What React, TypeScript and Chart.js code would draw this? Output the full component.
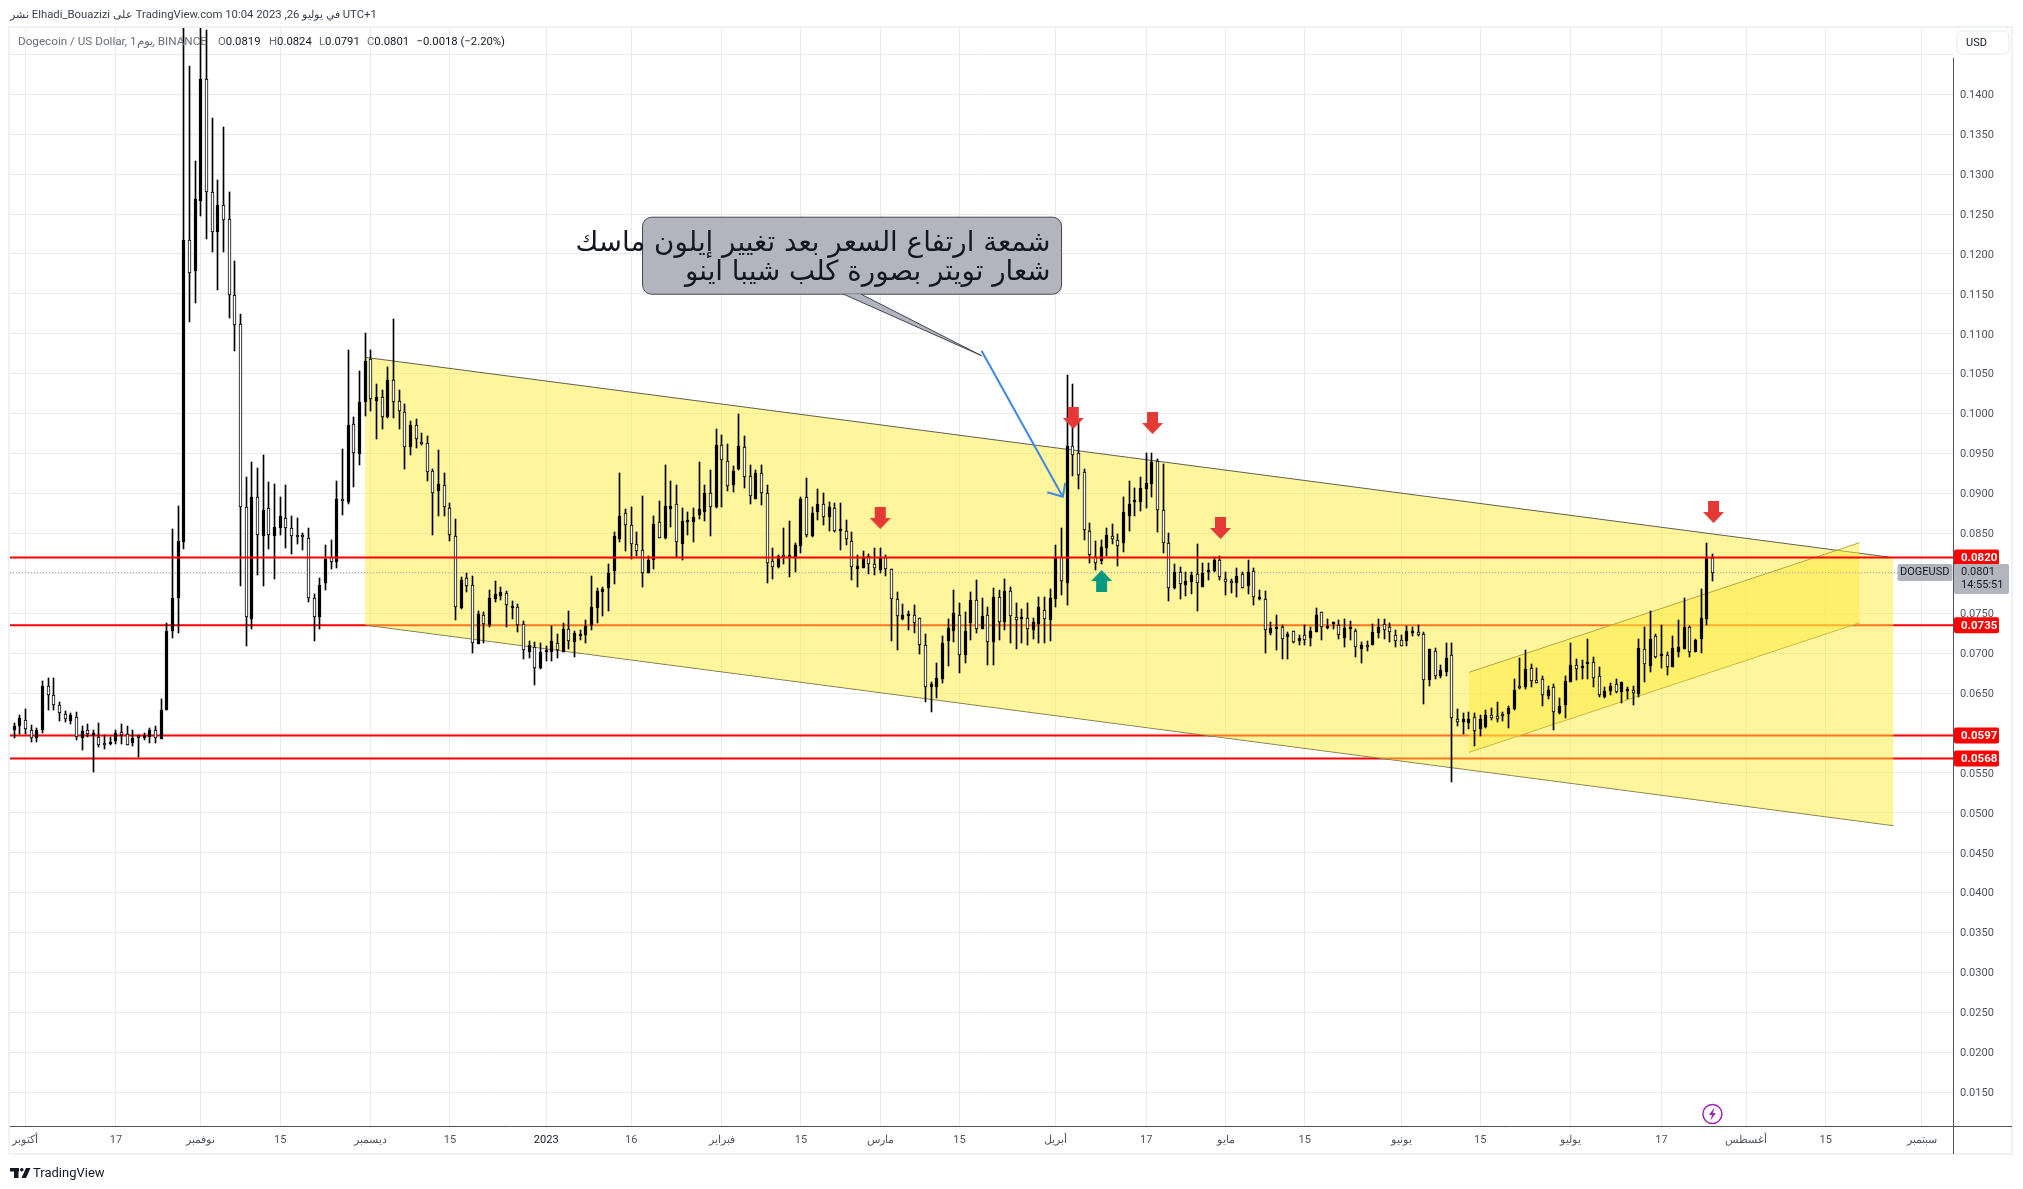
import React, { useEffect, useRef } from "react";
import { Chart, registerables } from "chart.js";

Chart.register(...registerables);

// x axis is days since 1 Oct 2022, first candle is 29 Sep
const firstDay = -2;

const opens = [
  0.06042, 0.06083, 0.06167, 0.06038, 0.05933, 0.06033, 0.06588, 0.06475, 0.0635, 0.06238,
  0.06146, 0.062, 0.05933, 0.06038, 0.05975, 0.0595, 0.0585, 0.05858, 0.05896, 0.06013,
  0.05988, 0.05871, 0.05942, 0.05933, 0.05946, 0.06038, 0.05929, 0.06292, 0.07273, 0.07689,
  0.08397, 0.12173, 0.11782, 0.12668, 0.14188, 0.12772, 0.12272, 0.12609, 0.12436, 0.11485,
  0.11119, 0.08832, 0.07426, 0.08956, 0.08466, 0.08817, 0.08466, 0.08565, 0.08694, 0.08565,
  0.08466, 0.08466, 0.08441, 0.07689, 0.07451, 0.07877, 0.08199, 0.08139, 0.08936, 0.08892,
  0.09872, 0.09496, 0.10142, 0.10685, 0.10163, 0.10205, 0.09954, 0.10422, 0.10155, 0.10017,
  0.09578, 0.09854, 0.09649, 0.09628, 0.09278, 0.09035, 0.09102, 0.08814, 0.08463, 0.07566,
  0.07937, 0.0785, 0.07119, 0.07474, 0.07349, 0.07683, 0.07716, 0.0775, 0.07566, 0.07574,
  0.0737, 0.07019, 0.07073, 0.0681, 0.0701, 0.07019, 0.07123, 0.07019, 0.07299, 0.0714,
  0.07219, 0.07228, 0.07353, 0.0757, 0.0777, 0.07816, 0.08033, 0.08434, 0.08752, 0.08601,
  0.08363, 0.08288, 0.08008, 0.08167, 0.08639, 0.08438, 0.0881, 0.08864, 0.08363, 0.08643,
  0.08639, 0.08735, 0.08768, 0.0901, 0.08827, 0.09603, 0.09403, 0.09102, 0.09303, 0.09587,
  0.09215, 0.08935, 0.09253, 0.09002, 0.08154, 0.08075, 0.08234, 0.08205, 0.08205, 0.08347,
  0.08952, 0.08468, 0.08764, 0.08864, 0.0871, 0.08814, 0.08526, 0.08534, 0.08401, 0.08058,
  0.08071, 0.08217, 0.08121, 0.08041, 0.082, 0.0805, 0.07682, 0.07428, 0.07469, 0.07473,
  0.07436, 0.07098, 0.0658, 0.0658, 0.0668, 0.07156, 0.07281, 0.07473, 0.06981, 0.07373,
  0.07666, 0.07306, 0.07473, 0.07144, 0.07699, 0.07394, 0.07774, 0.07448, 0.07423, 0.07436,
  0.07294, 0.07369, 0.0754, 0.07419, 0.07682, 0.082, 0.07883, 0.0959, 0.09503, 0.09265,
  0.08526, 0.08208, 0.08158, 0.08321, 0.08467, 0.08417, 0.08375, 0.08718, 0.08897, 0.08893,
  0.0906, 0.09119, 0.09411, 0.08789, 0.08384, 0.07816, 0.08012, 0.07858, 0.07891, 0.07987,
  0.07833, 0.08012, 0.08029, 0.08167, 0.07924, 0.07887, 0.07883, 0.07991, 0.07845, 0.08025,
  0.07678, 0.07674, 0.07248, 0.07306, 0.07327, 0.07206, 0.07273, 0.07152, 0.07223, 0.07194,
  0.07269, 0.07511, 0.07319, 0.07361, 0.07348, 0.07194, 0.07298, 0.07273, 0.07056, 0.07098,
  0.07102, 0.07248, 0.07361, 0.07327, 0.07223, 0.07167, 0.07154, 0.07259, 0.07263, 0.07238,
  0.06666, 0.07025, 0.06708, 0.0677, 0.06979, 0.06177, 0.06144, 0.06123, 0.06203, 0.06052,
  0.06073, 0.06223, 0.06211, 0.06228, 0.06236, 0.06299, 0.06591, 0.06582, 0.0682, 0.06662,
  0.06674, 0.0647, 0.06574, 0.06248, 0.06353, 0.06645, 0.0685, 0.0682, 0.06862, 0.06887,
  0.06712, 0.06457, 0.06532, 0.06616, 0.06511, 0.06524, 0.06541, 0.06495, 0.07054, 0.06841,
  0.07217, 0.06967, 0.06979, 0.06833, 0.07021, 0.07058, 0.0733, 0.07021, 0.0718, 0.0743,
  0.0819,
];

const highs = [
  0.06125, 0.06225, 0.063, 0.061, 0.06063, 0.06654, 0.06688, 0.06688, 0.06388, 0.06275,
  0.0625, 0.06263, 0.06083, 0.06117, 0.06042, 0.06125, 0.05971, 0.0595, 0.06038, 0.06113,
  0.06092, 0.06038, 0.05971, 0.06, 0.06063, 0.06088, 0.06425, 0.07375, 0.08555, 0.08842,
  0.152, 0.14352, 0.13168, 0.152, 0.148, 0.13698, 0.12926, 0.13594, 0.12777, 0.11911,
  0.11248, 0.09203, 0.09397, 0.09322, 0.09486, 0.09149, 0.09124, 0.08956, 0.09104, 0.08718,
  0.08694, 0.08505, 0.08565, 0.07738, 0.07941, 0.08357, 0.08416, 0.09154, 0.0956, 0.10797,
  0.09956, 0.10535, 0.1101, 0.10796, 0.10367, 0.10296, 0.1058, 0.11185, 0.10296, 0.10117,
  0.09908, 0.09933, 0.09754, 0.09716, 0.09303, 0.09541, 0.09253, 0.08877, 0.08676, 0.07954,
  0.08004, 0.07962, 0.07524, 0.07516, 0.07791, 0.079, 0.07829, 0.07783, 0.07653, 0.07612,
  0.07399, 0.07152, 0.07144, 0.07123, 0.0709, 0.0734, 0.0724, 0.07374, 0.07528, 0.07282,
  0.07286, 0.07415, 0.07967, 0.07812, 0.07833, 0.08117, 0.08522, 0.09253, 0.08806, 0.08827,
  0.08518, 0.08969, 0.08221, 0.08714, 0.08902, 0.09353, 0.09157, 0.09102, 0.08814, 0.08764,
  0.08814, 0.09395, 0.09106, 0.09294, 0.09808, 0.09729, 0.0962, 0.09344, 0.09996, 0.0972,
  0.09353, 0.09294, 0.09357, 0.09106, 0.08313, 0.0823, 0.08568, 0.08656, 0.08384, 0.08952,
  0.09194, 0.08835, 0.09056, 0.09002, 0.08889, 0.08877, 0.08877, 0.08664, 0.08514, 0.0823,
  0.08276, 0.08242, 0.08313, 0.08313, 0.08229, 0.08058, 0.0777, 0.07615, 0.07524, 0.07603,
  0.07436, 0.0724, 0.06638, 0.06872, 0.07219, 0.07423, 0.07791, 0.07624, 0.07511, 0.0777,
  0.07916, 0.07686, 0.07574, 0.07812, 0.07791, 0.07924, 0.07833, 0.07624, 0.07549, 0.07624,
  0.07436, 0.07699, 0.07699, 0.07803, 0.08354, 0.08567, 0.10484, 0.10371, 0.09933, 0.09302,
  0.08626, 0.084, 0.08417, 0.08567, 0.08613, 0.08492, 0.08956, 0.09156, 0.09073, 0.09202,
  0.09503, 0.09503, 0.09428, 0.09369, 0.08501, 0.08116, 0.08075, 0.0802, 0.0802, 0.08367,
  0.08125, 0.08125, 0.08208, 0.08217, 0.0802, 0.07924, 0.08062, 0.0802, 0.08162, 0.08062,
  0.07787, 0.07774, 0.07386, 0.07478, 0.07352, 0.07269, 0.07281, 0.07227, 0.07352, 0.07323,
  0.07561, 0.07511, 0.07423, 0.07394, 0.07415, 0.07423, 0.07407, 0.07298, 0.07139, 0.07148,
  0.07365, 0.07432, 0.07423, 0.07373, 0.0729, 0.0723, 0.07342, 0.07334, 0.07355, 0.07271,
  0.07054, 0.07063, 0.06854, 0.07129, 0.07125, 0.06299, 0.06248, 0.06261, 0.06248, 0.06228,
  0.0629, 0.06311, 0.06386, 0.06269, 0.0634, 0.06674, 0.06937, 0.07042, 0.06866, 0.06812,
  0.06708, 0.06591, 0.06616, 0.06436, 0.06708, 0.07125, 0.06929, 0.06916, 0.07175, 0.06958,
  0.06833, 0.06582, 0.06624, 0.06678, 0.06645, 0.06582, 0.06591, 0.0718, 0.07322, 0.0753,
  0.07242, 0.07347, 0.07021, 0.07217, 0.07418, 0.07689, 0.07342, 0.07175, 0.07802, 0.08386,
  0.0824,
];

const lows = [
  0.05942, 0.05992, 0.0599, 0.05883, 0.05892, 0.06, 0.06283, 0.06292, 0.06146, 0.06133,
  0.06117, 0.05908, 0.05783, 0.0595, 0.05508, 0.05825, 0.05796, 0.05846, 0.05858, 0.05858,
  0.05846, 0.05833, 0.057, 0.05908, 0.05871, 0.05879, 0.05921, 0.06283, 0.07184, 0.07248,
  0.08308, 0.11144, 0.11391, 0.1247, 0.12193, 0.1202, 0.11555, 0.1203, 0.11193, 0.10783,
  0.07837, 0.07095, 0.07308, 0.07976, 0.07837, 0.08308, 0.07926, 0.08476, 0.08322, 0.08238,
  0.08372, 0.08298, 0.07644, 0.07149, 0.07308, 0.07788, 0.0805, 0.08065, 0.08728, 0.08872,
  0.0908, 0.09362, 0.09971, 0.10038, 0.09678, 0.09812, 0.09942, 0.0995, 0.09812, 0.09311,
  0.09482, 0.09574, 0.09612, 0.09157, 0.08484, 0.08722, 0.08722, 0.08409, 0.07415, 0.07557,
  0.0777, 0.07006, 0.07115, 0.07132, 0.07332, 0.07641, 0.07666, 0.07332, 0.07432, 0.07269,
  0.06927, 0.06935, 0.06601, 0.06797, 0.06902, 0.06902, 0.06939, 0.07015, 0.07048, 0.06956,
  0.07165, 0.07132, 0.0729, 0.07374, 0.07466, 0.07532, 0.07871, 0.08397, 0.08284, 0.08175,
  0.08217, 0.07833, 0.08, 0.08058, 0.08443, 0.0843, 0.08585, 0.08209, 0.08167, 0.0848,
  0.08392, 0.08681, 0.08651, 0.08472, 0.08818, 0.08827, 0.09035, 0.09019, 0.0929, 0.09065,
  0.08868, 0.08927, 0.08856, 0.07883, 0.07933, 0.08063, 0.08117, 0.07958, 0.08021, 0.08255,
  0.08459, 0.08459, 0.08672, 0.08601, 0.08526, 0.08514, 0.08296, 0.08359, 0.07916, 0.07833,
  0.08063, 0.07992, 0.07979, 0.08, 0.07966, 0.07152, 0.0704, 0.07415, 0.0729, 0.07248,
  0.06989, 0.06392, 0.06267, 0.06434, 0.0663, 0.06843, 0.07144, 0.06747, 0.0688, 0.07165,
  0.07248, 0.073, 0.06856, 0.06856, 0.07165, 0.0729, 0.07123, 0.07056, 0.07123, 0.07106,
  0.07181, 0.07131, 0.07131, 0.07152, 0.07582, 0.07728, 0.07603, 0.09219, 0.0906, 0.08417,
  0.08133, 0.08041, 0.08116, 0.08217, 0.08367, 0.08096, 0.08267, 0.0853, 0.08722, 0.08785,
  0.08814, 0.0896, 0.08522, 0.08258, 0.07657, 0.07808, 0.07682, 0.07716, 0.07741, 0.07532,
  0.07824, 0.0792, 0.0802, 0.07916, 0.07728, 0.07757, 0.07707, 0.07812, 0.07741, 0.07603,
  0.07666, 0.06997, 0.07227, 0.07039, 0.06931, 0.06931, 0.07131, 0.07098, 0.07098, 0.07089,
  0.07269, 0.07165, 0.07298, 0.07306, 0.07173, 0.07081, 0.07165, 0.06956, 0.06881, 0.07031,
  0.07098, 0.07185, 0.07181, 0.07144, 0.07081, 0.07084, 0.07092, 0.07209, 0.07221, 0.06365,
  0.06591, 0.06674, 0.06687, 0.06708, 0.05392, 0.0609, 0.0599, 0.06048, 0.05839, 0.05965,
  0.0606, 0.06157, 0.06144, 0.06152, 0.06069, 0.0629, 0.06549, 0.06549, 0.06582, 0.06624,
  0.0634, 0.06432, 0.0604, 0.06236, 0.06186, 0.06641, 0.06666, 0.06674, 0.06674, 0.06582,
  0.06457, 0.06436, 0.06478, 0.06507, 0.06374, 0.06424, 0.06353, 0.06457, 0.06645, 0.0677,
  0.06937, 0.06812, 0.06729, 0.06825, 0.06958, 0.0705, 0.06958, 0.07013, 0.07008, 0.07355,
  0.0791,
];

const closes = [
  0.06092, 0.06188, 0.06046, 0.05938, 0.06042, 0.06592, 0.06471, 0.0635, 0.0625, 0.06175,
  0.06225, 0.0595, 0.06021, 0.05983, 0.05988, 0.0585, 0.05846, 0.05892, 0.06, 0.05975,
  0.0585, 0.05942, 0.05938, 0.05954, 0.06038, 0.05938, 0.06288, 0.07275, 0.07689, 0.08407,
  0.12173, 0.11758, 0.12688, 0.14188, 0.12772, 0.12272, 0.12609, 0.12431, 0.11485, 0.11109,
  0.08832, 0.07456, 0.08956, 0.08481, 0.08793, 0.08476, 0.0858, 0.08718, 0.08565, 0.08466,
  0.0846, 0.0846, 0.07689, 0.07451, 0.07852, 0.08179, 0.08139, 0.08936, 0.08902, 0.09857,
  0.09505, 0.10144, 0.10656, 0.10188, 0.10205, 0.09962, 0.10422, 0.10142, 0.10029, 0.09578,
  0.09854, 0.09678, 0.09624, 0.09273, 0.0901, 0.09115, 0.08827, 0.08484, 0.07582, 0.07916,
  0.07837, 0.07132, 0.07486, 0.0737, 0.07687, 0.07737, 0.07762, 0.07608, 0.07591, 0.07353,
  0.07044, 0.07098, 0.06818, 0.0701, 0.07023, 0.07148, 0.07035, 0.07307, 0.07148, 0.07248,
  0.07236, 0.07344, 0.07574, 0.07775, 0.078, 0.08008, 0.08468, 0.08714, 0.08601, 0.08363,
  0.08284, 0.08, 0.08167, 0.08614, 0.08447, 0.08843, 0.08848, 0.08397, 0.08651, 0.08664,
  0.0871, 0.08806, 0.09002, 0.08835, 0.09608, 0.09415, 0.09094, 0.09278, 0.09595, 0.09203,
  0.08969, 0.09253, 0.09002, 0.08125, 0.08084, 0.08213, 0.08209, 0.08209, 0.08351, 0.08927,
  0.08476, 0.0876, 0.08864, 0.08701, 0.08835, 0.08526, 0.08534, 0.08426, 0.08084, 0.08088,
  0.08205, 0.08121, 0.08063, 0.08187, 0.08058, 0.07674, 0.07465, 0.07473, 0.07486, 0.07382,
  0.07098, 0.0658, 0.06609, 0.06684, 0.07123, 0.07311, 0.07499, 0.06973, 0.07277, 0.07666,
  0.07306, 0.07465, 0.07144, 0.07703, 0.07394, 0.07774, 0.07469, 0.07419, 0.07448, 0.07298,
  0.0739, 0.07574, 0.07423, 0.07686, 0.08208, 0.07908, 0.09595, 0.09486, 0.09236, 0.08542,
  0.08229, 0.08133, 0.08325, 0.0848, 0.08434, 0.08338, 0.08764, 0.08864, 0.08914, 0.09068,
  0.09127, 0.0939, 0.08789, 0.08384, 0.0782, 0.08012, 0.07862, 0.07904, 0.07979, 0.07874,
  0.08008, 0.08037, 0.08167, 0.07958, 0.07887, 0.07883, 0.07966, 0.0782, 0.08012, 0.07699,
  0.07699, 0.07286, 0.07311, 0.07323, 0.07173, 0.07235, 0.0714, 0.07185, 0.07169, 0.07277,
  0.07473, 0.07323, 0.0734, 0.07369, 0.07223, 0.07311, 0.07315, 0.07081, 0.07102, 0.07073,
  0.07265, 0.07327, 0.0729, 0.07261, 0.07156, 0.07096, 0.0728, 0.07284, 0.0723, 0.06658,
  0.07054, 0.06716, 0.06791, 0.06942, 0.06182, 0.06144, 0.06177, 0.06177, 0.06031, 0.06177,
  0.06223, 0.06186, 0.06177, 0.06207, 0.06311, 0.06541, 0.0657, 0.068, 0.06653, 0.06632,
  0.06478, 0.06541, 0.06261, 0.0634, 0.06653, 0.0685, 0.068, 0.06829, 0.06891, 0.06683,
  0.06478, 0.06528, 0.06591, 0.0652, 0.06637, 0.06532, 0.06499, 0.07063, 0.06862, 0.0718,
  0.06958, 0.06975, 0.06833, 0.07063, 0.07075, 0.0733, 0.07021, 0.07167, 0.07438, 0.08203,
  0.0801,
];

const tickDays = [0, 16, 31, 45, 61, 75, 92, 107, 123, 137, 151, 165, 182, 198, 212, 226, 243, 257, 273, 289, 304, 318, 335];
const tickLabels = ["أكتوبر", "17", "نوفمبر", "15", "ديسمبر", "15", "2023", "16", "فبراير", "15", "مارس", "15", "أبريل", "17", "مايو", "15", "يونيو", "15", "يوليو", "17", "أغسطس", "15", "سبتمبر"];

const priceLevels = [0.082, 0.0735, 0.0597, 0.0568];
const lastPrice = 0.0801;

// falling channel
const bigChannelDays = [60, 330];
const bigChannelUpper = [0.10706, 0.08196];
const bigChannelLower = [0.07353, 0.0484];
// rising channel
const smallChannelDays = [255, 324];
const smallChannelUpper = [0.0676, 0.08384];
const smallChannelLower = [0.05759, 0.07382];

const downArrowDays = [151, 185.1, 199.1, 211.1, 298.2];
const downArrowPrices = [0.08693, 0.09946, 0.09883, 0.08568, 0.08768];
const upArrowDays = [190.1];
const upArrowPrices = [0.07904];

const blueLineDays = [168.9, 183.25];
const blueLinePrices = [0.10789, 0.0896];
const blueHeadDays = [180.5, 183.25, 183.7];
const blueHeadPrices = [0.09015, 0.0896, 0.09135];

const calloutDay = 168.9;
const calloutPrice = 0.10726;
const calloutLines = ["شمعة ارتفاع السعر بعد تغيير إيلون ماسك", "شعار تويتر بصورة كلب شيبا اينو"];

const xMin = -2.72;
const xMax = 340.5;
const yMin = 0.01078;
const yMax = 0.14843;

const UI_FONT = "Roboto, 'Liberation Sans', sans-serif";

function arrowImage(color: string, up: boolean) {
  const c = document.createElement("canvas");
  c.width = 21;
  c.height = 22;
  const g = c.getContext("2d")!;
  if (up) {
    g.translate(0, 22);
    g.scale(1, -1);
  }
  g.fillStyle = color;
  g.beginPath();
  g.moveTo(5, 0);
  g.lineTo(16, 0);
  g.lineTo(16, 11);
  g.lineTo(21, 11);
  g.lineTo(10.5, 22);
  g.lineTo(0, 11);
  g.lineTo(5, 11);
  g.closePath();
  g.fill();
  return c;
}

function pairs(xs: number[], ys: number[]) {
  return xs.map((x, i) => ({ x, y: ys[i] }));
}

function roundBox(ctx: CanvasRenderingContext2D, x: number, y: number, w: number, h: number, r: number) {
  ctx.beginPath();
  ctx.roundRect(x, y, w, h, r);
}

// snap the candles to whole pixels so 1px wicks stay crisp
const snapPlugin = {
  id: "snap",
  beforeDatasetsDraw(chart: any) {
    chart.getSortedVisibleDatasetMetas().forEach((meta: any) => {
      if (meta.type !== "bar") return;
      meta.data.forEach((bar: any) => {
        bar.x = Math.floor(bar.x) + 0.5;
        bar.y = Math.round(bar.y);
        bar.base = Math.round(bar.base);
        bar.height = bar.base - bar.y;
      });
    });
  },
};

// everything TradingView draws around the chart: frame, tags, callout, header
const overlayPlugin = {
  id: "overlay",
  afterDraw(chart: any) {
    const { ctx, scales } = chart;
    const xs = scales.x;
    const ys = scales.y;
    ctx.save();
    ctx.direction = "ltr";
    ctx.textBaseline = "middle";

    // frame
    ctx.strokeStyle = "#eff1f6";
    ctx.lineWidth = 2;
    ctx.strokeRect(9, 27, 2003, 1127);
    ctx.strokeStyle = "#50535e";
    ctx.lineWidth = 1;
    ctx.beginPath();
    ctx.moveTo(10, 1126.5);
    ctx.lineTo(2012, 1126.5);
    ctx.moveTo(1953.5, 58);
    ctx.lineTo(1953.5, 1154);
    ctx.stroke();

    // USD button
    ctx.fillStyle = "#fff";
    ctx.strokeStyle = "#e6e8f0";
    roundBox(ctx, 1957, 31, 52, 23, 5);
    ctx.fill();
    ctx.stroke();
    ctx.fillStyle = "#131722";
    ctx.font = `11px ${UI_FONT}`;
    ctx.textAlign = "left";
    ctx.fillText("USD", 1966, 43);

    // price level tags
    ctx.font = `bold 11.5px ${UI_FONT}`;
    priceLevels.forEach((p) => {
      const y = ys.getPixelForValue(p);
      ctx.fillStyle = "#ff0000";
      roundBox(ctx, 1954, y - 8, 45, 16, 2);
      ctx.fill();
      ctx.fillStyle = "#fff";
      ctx.fillText(p.toFixed(4), 1961, y + 0.5);
    });

    // last price tag
    const ly = ys.getPixelForValue(lastPrice);
    ctx.fillStyle = "#b2b5be";
    roundBox(ctx, 1954, ly - 8.5, 55, 30, 2);
    ctx.fill();
    roundBox(ctx, 1897.5, ly - 8.5, 55, 17, 2);
    ctx.fill();
    ctx.fillStyle = "#131722";
    ctx.font = `11px ${UI_FONT}`;
    ctx.fillText("DOGEUSD", 1900, ly);
    ctx.fillText(lastPrice.toFixed(4), 1961, ly);
    ctx.fillText("14:55:51", 1961, ly + 13);

    // callout
    const tipX = xs.getPixelForValue(calloutDay);
    const tipY = ys.getPixelForValue(calloutPrice);
    const boxX = tipX - 339;
    const boxY = tipY - 138.5;
    ctx.fillStyle = "#b2b5be";
    ctx.strokeStyle = "#434651";
    ctx.lineWidth = 1;
    roundBox(ctx, boxX, boxY, 419, 77, 9);
    ctx.fill();
    ctx.stroke();
    ctx.beginPath();
    ctx.moveTo(tipX - 138, boxY + 77);
    ctx.lineTo(tipX, tipY);
    ctx.lineTo(tipX - 120.5, boxY + 77);
    ctx.closePath();
    ctx.fill();
    ctx.beginPath();
    ctx.moveTo(tipX - 138, boxY + 77);
    ctx.lineTo(tipX, tipY);
    ctx.lineTo(tipX - 120.5, boxY + 77);
    ctx.stroke();
    ctx.fillStyle = "#131722";
    ctx.font = "27.7px 'DejaVu Sans'";
    ctx.direction = "rtl";
    ctx.textAlign = "right";
    calloutLines.forEach((line, i) => ctx.fillText(line, boxX + 408, boxY + 26.5 + i * 29));
    ctx.direction = "ltr";
    ctx.textAlign = "left";

    // header line above the chart
    ctx.fillStyle = "#3a3e4a";
    ctx.font = `11.3px ${UI_FONT}`;
    ctx.fillText("نشر Elhadi_Bouazizi على TradingView.com 10:04 2023 ,26 في يوليو UTC+1", 10, 15.5);

    // symbol legend
    ctx.font = `11.7px ${UI_FONT}`;
    ctx.fillStyle = "#6a6d78";
    ctx.fillText("Dogecoin / US Dollar, 1يوم, BINANCE", 18, 42.5);
    ctx.font = `11.3px ${UI_FONT}`;
    const ohlc: [string, string, number][] = [
      ["O", "0.0819", 218],
      ["H", "0.0824", 269],
      ["L", "0.0791", 319],
      ["C", "0.0801", 367],
    ];
    ohlc.forEach(([k, v, x]) => {
      ctx.fillStyle = "#6a6d78";
      ctx.fillText(k, x, 42.5);
      const w = ctx.measureText(k).width;
      ctx.fillStyle = "#131722";
      ctx.fillText(v, x + w, 42.5);
    });
    ctx.fillText("−0.0018 (−2.20%)", 416.5, 42.5);

    // publish mark on the last candle
    const bx = xs.getPixelForValue(firstDay + closes.length - 1);
    const by = 1114;
    ctx.strokeStyle = "#9c27b0";
    ctx.lineWidth = 1.5;
    ctx.beginPath();
    ctx.arc(bx, by, 9.5, 0, Math.PI * 2);
    ctx.stroke();
    ctx.fillStyle = "#9c27b0";
    ctx.beginPath();
    ctx.moveTo(bx + 2, by - 6.5);
    ctx.lineTo(bx - 3.5, by + 1);
    ctx.lineTo(bx - 0.5, by + 1);
    ctx.lineTo(bx - 2, by + 6.5);
    ctx.lineTo(bx + 3.5, by - 1);
    ctx.lineTo(bx + 0.5, by - 1);
    ctx.closePath();
    ctx.fill();

    // footer logo and name
    ctx.fillStyle = "#131722";
    ctx.fillRect(10, 1168, 9, 3.5);
    ctx.fillRect(14, 1168, 4.5, 10);
    ctx.beginPath();
    ctx.arc(21.8, 1169.8, 1.8, 0, Math.PI * 2);
    ctx.fill();
    ctx.beginPath();
    ctx.moveTo(26, 1168);
    ctx.lineTo(30.5, 1168);
    ctx.lineTo(26, 1178);
    ctx.lineTo(21.5, 1178);
    ctx.closePath();
    ctx.fill();
    ctx.font = `13px ${UI_FONT}`;
    ctx.fillText("TradingView", 33, 1173.5);
    ctx.restore();
  },
};

const App: React.FC = () => {
  const canvasRef = useRef<HTMLCanvasElement>(null);

  useEffect(() => {
    document.body.style.margin = "0";
    document.body.style.background = "#fff";

    const candleDays = closes.map((_, i) => firstDay + i);
    const levelDays = [xMin, xMax];

    const levelLine = (price: number, order: number) => ({
      type: "line" as const,
      data: pairs(levelDays, [price, price]),
      borderColor: "#ff0000",
      borderWidth: 2,
      pointRadius: 0,
      order,
    });

    const chart = new Chart(canvasRef.current!, {
      type: "bar",
      data: {
        datasets: [
          // big channel
          {
            type: "line",
            data: pairs(bigChannelDays, bigChannelUpper),
            borderColor: "#5f5f4c",
            borderWidth: 1,
            pointRadius: 0,
            fill: "+1",
            backgroundColor: "rgba(255, 235, 59, 0.5)",
            order: 7,
          },
          {
            type: "line",
            data: pairs(bigChannelDays, bigChannelLower),
            borderColor: "#5f5f4c",
            borderWidth: 1,
            pointRadius: 0,
            order: 7,
          },
          // small channel
          {
            type: "line",
            data: pairs(smallChannelDays, smallChannelUpper),
            borderColor: "#b3a640",
            borderWidth: 1,
            pointRadius: 0,
            fill: "+1",
            backgroundColor: "rgba(255, 235, 59, 0.5)",
            order: 6,
          },
          {
            type: "line",
            data: pairs(smallChannelDays, smallChannelLower),
            borderColor: "#b3a640",
            borderWidth: 1,
            pointRadius: 0,
            order: 6,
          },
          levelLine(priceLevels[0], 2),
          levelLine(priceLevels[1], 8),
          levelLine(priceLevels[2], 8),
          levelLine(priceLevels[3], 8),
          {
            type: "line",
            data: pairs(levelDays, [lastPrice, lastPrice]),
            borderColor: "#a6a9b3",
            borderWidth: 1,
            borderDash: [1, 2],
            pointRadius: 0,
            order: 5,
          },
          // wicks
          {
            type: "bar",
            data: candleDays.map((x, i) => ({ x, y: [lows[i], highs[i]] })),
            backgroundColor: "#000",
            borderWidth: 0,
            barThickness: 1,
            grouped: false,
            order: 4,
          } as any,
          // bodies, black when the day closed up, hollow when it closed down
          {
            type: "bar",
            data: candleDays.map((x, i) => ({ x, y: [opens[i], closes[i]] })),
            backgroundColor: candleDays.map((_, i) => (closes[i] >= opens[i] ? "#000" : "#fff")),
            borderColor: "#000",
            borderWidth: 1,
            borderSkipped: false,
            barThickness: 3,
            minBarLength: 2,
            grouped: false,
            order: 3,
          } as any,
          // blue arrow
          {
            type: "line",
            data: pairs(blueLineDays, blueLinePrices),
            borderColor: "#3f86e6",
            borderWidth: 2,
            pointRadius: 0,
            order: 1,
          },
          {
            type: "line",
            data: pairs(blueHeadDays, blueHeadPrices),
            borderColor: "#3f86e6",
            borderWidth: 2,
            pointRadius: 0,
            order: 1,
          },
          {
            type: "scatter",
            data: pairs(downArrowDays, downArrowPrices),
            pointStyle: arrowImage("#e53935", false),
            order: 0,
          } as any,
          {
            type: "scatter",
            data: pairs(upArrowDays, upArrowPrices),
            pointStyle: arrowImage("#089981", true),
            order: 0,
          } as any,
        ],
      },
      options: {
        responsive: false,
        animation: false,
        layout: { padding: { left: 10, top: 27, right: 11, bottom: 35 } },
        plugins: {
          legend: { display: false },
          tooltip: { enabled: false },
        },
        scales: {
          x: {
            type: "linear",
            offset: false,
            min: xMin,
            max: xMax,
            afterBuildTicks(scale: any) {
              scale.ticks = tickDays.map((value) => ({ value }));
            },
            afterFit(scale: any) {
              scale.height = 28;
            },
            grid: { color: "#e8eaee", drawTicks: false, offset: false },
            border: { display: false },
            ticks: {
              autoSkip: false,
              maxRotation: 0,
              padding: 8,
              color: (c: any) => (c.tick && c.tick.value === 92 ? "#131722" : "#50535e"),
              font: { family: UI_FONT, size: 11 },
              callback: (value: any) => tickLabels[tickDays.indexOf(value)] ?? "",
            },
          },
          y: {
            type: "linear",
            position: "right",
            min: yMin,
            max: yMax,
            afterBuildTicks(scale: any) {
              const ticks = [];
              for (let i = 3; i <= 29; i++) ticks.push({ value: i * 0.005 });
              scale.ticks = ticks;
            },
            afterFit(scale: any) {
              scale.width = 59;
            },
            grid: { color: "#e8eaee", drawTicks: false },
            border: { display: false },
            ticks: {
              padding: 7,
              labelOffset: 1,
              color: "#50535e",
              font: { family: UI_FONT, size: 11 },
              callback: (value: any) => (value > 0.144 ? "" : Number(value).toFixed(4)),
            },
          },
        },
      },
      plugins: [snapPlugin, overlayPlugin],
    } as any);

    return () => chart.destroy();
  }, []);

  return <canvas ref={canvasRef} width={2023} height={1189} style={{ display: "block" }} />;
};

export default App;
